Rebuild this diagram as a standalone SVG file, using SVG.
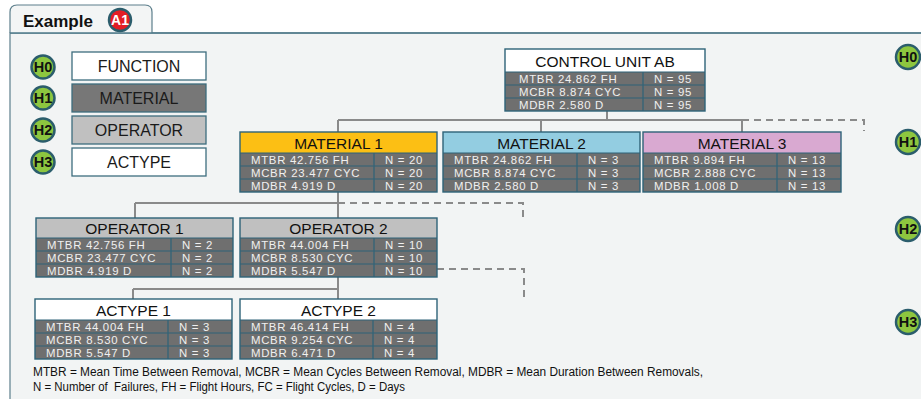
<svg xmlns="http://www.w3.org/2000/svg" width="921" height="399" viewBox="0 0 921 399">
<style>
.t{font-family:"Liberation Sans",Arial,sans-serif}
.conn{stroke:#8a8a8a;stroke-width:2;fill:none}
.dash{stroke:#8a8a8a;stroke-width:2;fill:none;stroke-dasharray:7 5}
.frame{fill:none;stroke:#2e6378;stroke-width:1.4}
.sep{stroke:#2e6378;stroke-width:1.2}
.rows{fill:#6f6f6f}
.title{font-size:15.5px;fill:#111;text-anchor:middle}
.rt{font-size:11.4px;letter-spacing:0.7px;fill:#f0f0f0}
.lg{font-size:16px;fill:#1a1a1a;text-anchor:middle}
.lbox{stroke:#3d6d7e;stroke-width:1.3}
.badge circle{fill:#8dc63f;stroke:#2b5d6c;stroke-width:2.5}
.badge text{font-family:"Liberation Sans",Arial,sans-serif;font-weight:bold;font-size:14.5px;fill:#111;text-anchor:middle}
.foot{font-size:12px;fill:#111}
</style>
<rect width="921" height="399" fill="#ffffff"/>
<rect x="10" y="33" width="915" height="370" fill="#f2f4f4" stroke="#5d7f8c" stroke-width="1.2"/>
<path d="M10,33 V12 Q10,5 17,5 H145 Q152,5 152,12 V33" fill="#f3f5f5" stroke="#5d7f8c" stroke-width="1.2"/>
<line x1="10" y1="33" x2="921" y2="33" stroke="#4f7a8a" stroke-width="1.6"/>
<text class="t" x="23" y="27" font-size="17" font-weight="bold" fill="#111">Example</text>
<g id="badgeA1">
<circle cx="120" cy="20" r="11" fill="#e31d25" stroke="#2b5d6c" stroke-width="2.5"/>
<text class="t" x="120" y="25" font-size="14" font-weight="bold" fill="#fff" text-anchor="middle">A1</text>
</g>

<g id="legend">
<g class="badge"><circle cx="43" cy="67" r="11.5"/><text x="43" y="72.2">H0</text></g>
<g class="badge"><circle cx="43" cy="98" r="11.5"/><text x="43" y="103.2">H1</text></g>
<g class="badge"><circle cx="43" cy="130" r="11.5"/><text x="43" y="135.2">H2</text></g>
<g class="badge"><circle cx="43" cy="162" r="11.5"/><text x="43" y="167.2">H3</text></g>
<rect class="lbox" x="72" y="52" width="134" height="28" fill="#ffffff"/>
<text class="t lg" x="139" y="72">FUNCTION</text>
<rect class="lbox" x="72" y="84" width="134" height="28" fill="#777777"/>
<text class="t lg" x="139" y="104">MATERIAL</text>
<rect class="lbox" x="72" y="116" width="134" height="28" fill="#c0c0c0"/>
<text class="t lg" x="139" y="136">OPERATOR</text>
<rect class="lbox" x="72" y="148" width="134" height="28" fill="#ffffff"/>
<text class="t lg" x="139" y="168">ACTYPE</text>
</g>

<g id="levels">
<g class="badge"><circle cx="908" cy="57" r="12"/><text x="908" y="62.2">H0</text></g>
<g class="badge"><circle cx="908" cy="142" r="12"/><text x="908" y="147.2">H1</text></g>
<g class="badge"><circle cx="908" cy="229" r="12"/><text x="908" y="234.2">H2</text></g>
<g class="badge"><circle cx="908" cy="322" r="12"/><text x="908" y="327.2">H3</text></g>
</g>

<g id="connectors">
<path class="conn" d="M607,111 V120 M338,120 H742 M338,120 V132 M541,120 V132 M742,120 V132"/>
<path class="dash" d="M742,120 H864 V131"/>
<path class="conn" d="M338,192 V218 M135,203 H338 M135,203 V218"/>
<path class="dash" d="M338,203 H523 V218"/>
<path class="conn" d="M338,277 V299 M133,289 H338 M133,289 V299"/>
<path class="dash" d="M437,269 H524 V299"/>
</g>

<g id="control-unit" transform="translate(505,49)">
<rect width="200" height="23" fill="#ffffff"/>
<rect class="rows" y="23" width="200" height="39"/>
<path class="sep" d="M0,23 H200 M0,36 H200 M0,49 H200 M138,23 V62"/>
<rect class="frame" width="200" height="62"/>
<text class="t title" x="100" y="17.5" font-size="15">CONTROL UNIT AB</text>
<text class="t rt" x="14" y="34">MTBR 24.862 FH</text><text class="t rt" x="149" y="34">N = 95</text>
<text class="t rt" x="14" y="47">MCBR 8.874 CYC</text><text class="t rt" x="149" y="47">N = 95</text>
<text class="t rt" x="14" y="60">MDBR 2.580 D</text><text class="t rt" x="149" y="60">N = 95</text>
</g>

<g id="material-1" transform="translate(240,132)">
<rect width="197" height="21" fill="#fcbf14"/>
<rect class="rows" y="21" width="197" height="39"/>
<path class="sep" d="M0,21 H197 M0,34 H197 M0,47 H197 M134,21 V60"/>
<rect class="frame" width="197" height="60"/>
<text class="t title" x="98.5" y="16.5">MATERIAL 1</text>
<text class="t rt" x="11" y="32">MTBR 42.756 FH</text><text class="t rt" x="145" y="32">N = 20</text>
<text class="t rt" x="11" y="45">MCBR 23.477 CYC</text><text class="t rt" x="145" y="45">N = 20</text>
<text class="t rt" x="11" y="58">MDBR 4.919 D</text><text class="t rt" x="145" y="58">N = 20</text>
</g>

<g id="material-2" transform="translate(443,132)">
<rect width="197" height="21" fill="#93cde1"/>
<rect class="rows" y="21" width="197" height="39"/>
<path class="sep" d="M0,21 H197 M0,34 H197 M0,47 H197 M134,21 V60"/>
<rect class="frame" width="197" height="60"/>
<text class="t title" x="98.5" y="16.5">MATERIAL 2</text>
<text class="t rt" x="11" y="32">MTBR 24.862 FH</text><text class="t rt" x="145" y="32">N = 3</text>
<text class="t rt" x="11" y="45">MCBR 8.874 CYC</text><text class="t rt" x="145" y="45">N = 3</text>
<text class="t rt" x="11" y="58">MDBR 2.580 D</text><text class="t rt" x="145" y="58">N = 3</text>
</g>

<g id="material-3" transform="translate(643,132)">
<rect width="198" height="21" fill="#d9a9d1"/>
<rect class="rows" y="21" width="198" height="39"/>
<path class="sep" d="M0,21 H198 M0,34 H198 M0,47 H198 M134,21 V60"/>
<rect class="frame" width="198" height="60"/>
<text class="t title" x="99" y="16.5">MATERIAL 3</text>
<text class="t rt" x="11" y="32">MTBR 9.894 FH</text><text class="t rt" x="145" y="32">N = 13</text>
<text class="t rt" x="11" y="45">MCBR 2.888 CYC</text><text class="t rt" x="145" y="45">N = 13</text>
<text class="t rt" x="11" y="58">MDBR 1.008 D</text><text class="t rt" x="145" y="58">N = 13</text>
</g>

<g id="operator-1" transform="translate(36,218)">
<rect width="197" height="20" fill="#c0c0c0"/>
<rect class="rows" y="20" width="197" height="39"/>
<path class="sep" d="M0,20 H197 M0,33 H197 M0,46 H197 M135,20 V59"/>
<rect class="frame" width="197" height="59"/>
<text class="t title" x="98.5" y="16">OPERATOR 1</text>
<text class="t rt" x="11" y="31">MTBR 42.756 FH</text><text class="t rt" x="146" y="31">N = 2</text>
<text class="t rt" x="11" y="44">MCBR 23.477 CYC</text><text class="t rt" x="146" y="44">N = 2</text>
<text class="t rt" x="11" y="57">MDBR 4.919 D</text><text class="t rt" x="146" y="57">N = 2</text>
</g>

<g id="operator-2" transform="translate(240,218)">
<rect width="197" height="20" fill="#c0c0c0"/>
<rect class="rows" y="20" width="197" height="39"/>
<path class="sep" d="M0,20 H197 M0,33 H197 M0,46 H197 M134,20 V59"/>
<rect class="frame" width="197" height="59"/>
<text class="t title" x="98.5" y="16">OPERATOR 2</text>
<text class="t rt" x="11" y="31">MTBR 44.004 FH</text><text class="t rt" x="145" y="31">N = 10</text>
<text class="t rt" x="11" y="44">MCBR 8.530 CYC</text><text class="t rt" x="145" y="44">N = 10</text>
<text class="t rt" x="11" y="57">MDBR 5.547 D</text><text class="t rt" x="145" y="57">N = 10</text>
</g>

<g id="actype-1" transform="translate(35,299)">
<rect width="197" height="21" fill="#ffffff"/>
<rect class="rows" y="21" width="197" height="39"/>
<path class="sep" d="M0,21 H197 M0,34 H197 M0,47 H197 M133,21 V60"/>
<rect class="frame" width="197" height="60"/>
<text class="t title" x="98.5" y="16.5">ACTYPE 1</text>
<text class="t rt" x="11" y="32">MTBR 44.004 FH</text><text class="t rt" x="144" y="32">N = 3</text>
<text class="t rt" x="11" y="45">MCBR 8.530 CYC</text><text class="t rt" x="144" y="45">N = 3</text>
<text class="t rt" x="11" y="58">MDBR 5.547 D</text><text class="t rt" x="144" y="58">N = 3</text>
</g>

<g id="actype-2" transform="translate(240,299)">
<rect width="197" height="21" fill="#ffffff"/>
<rect class="rows" y="21" width="197" height="39"/>
<path class="sep" d="M0,21 H197 M0,34 H197 M0,47 H197 M133,21 V60"/>
<rect class="frame" width="197" height="60"/>
<text class="t title" x="98.5" y="16.5">ACTYPE 2</text>
<text class="t rt" x="11" y="32">MTBR 46.414 FH</text><text class="t rt" x="144" y="32">N = 4</text>
<text class="t rt" x="11" y="45">MCBR 9.254 CYC</text><text class="t rt" x="144" y="45">N = 4</text>
<text class="t rt" x="11" y="58">MDBR 6.471 D</text><text class="t rt" x="144" y="58">N = 4</text>
</g>

<g id="footnote">
<text class="t foot" x="33" y="376" textLength="670" lengthAdjust="spacingAndGlyphs">MTBR = Mean Time Between Removal, MCBR = Mean Cycles Between Removal, MDBR = Mean Duration Between Removals,</text>
<text class="t foot" x="33" y="391" textLength="372" lengthAdjust="spacingAndGlyphs" xml:space="preserve">N = Number of  Failures, FH = Flight Hours, FC = Flight Cycles, D = Days</text>
</g>
</svg>
